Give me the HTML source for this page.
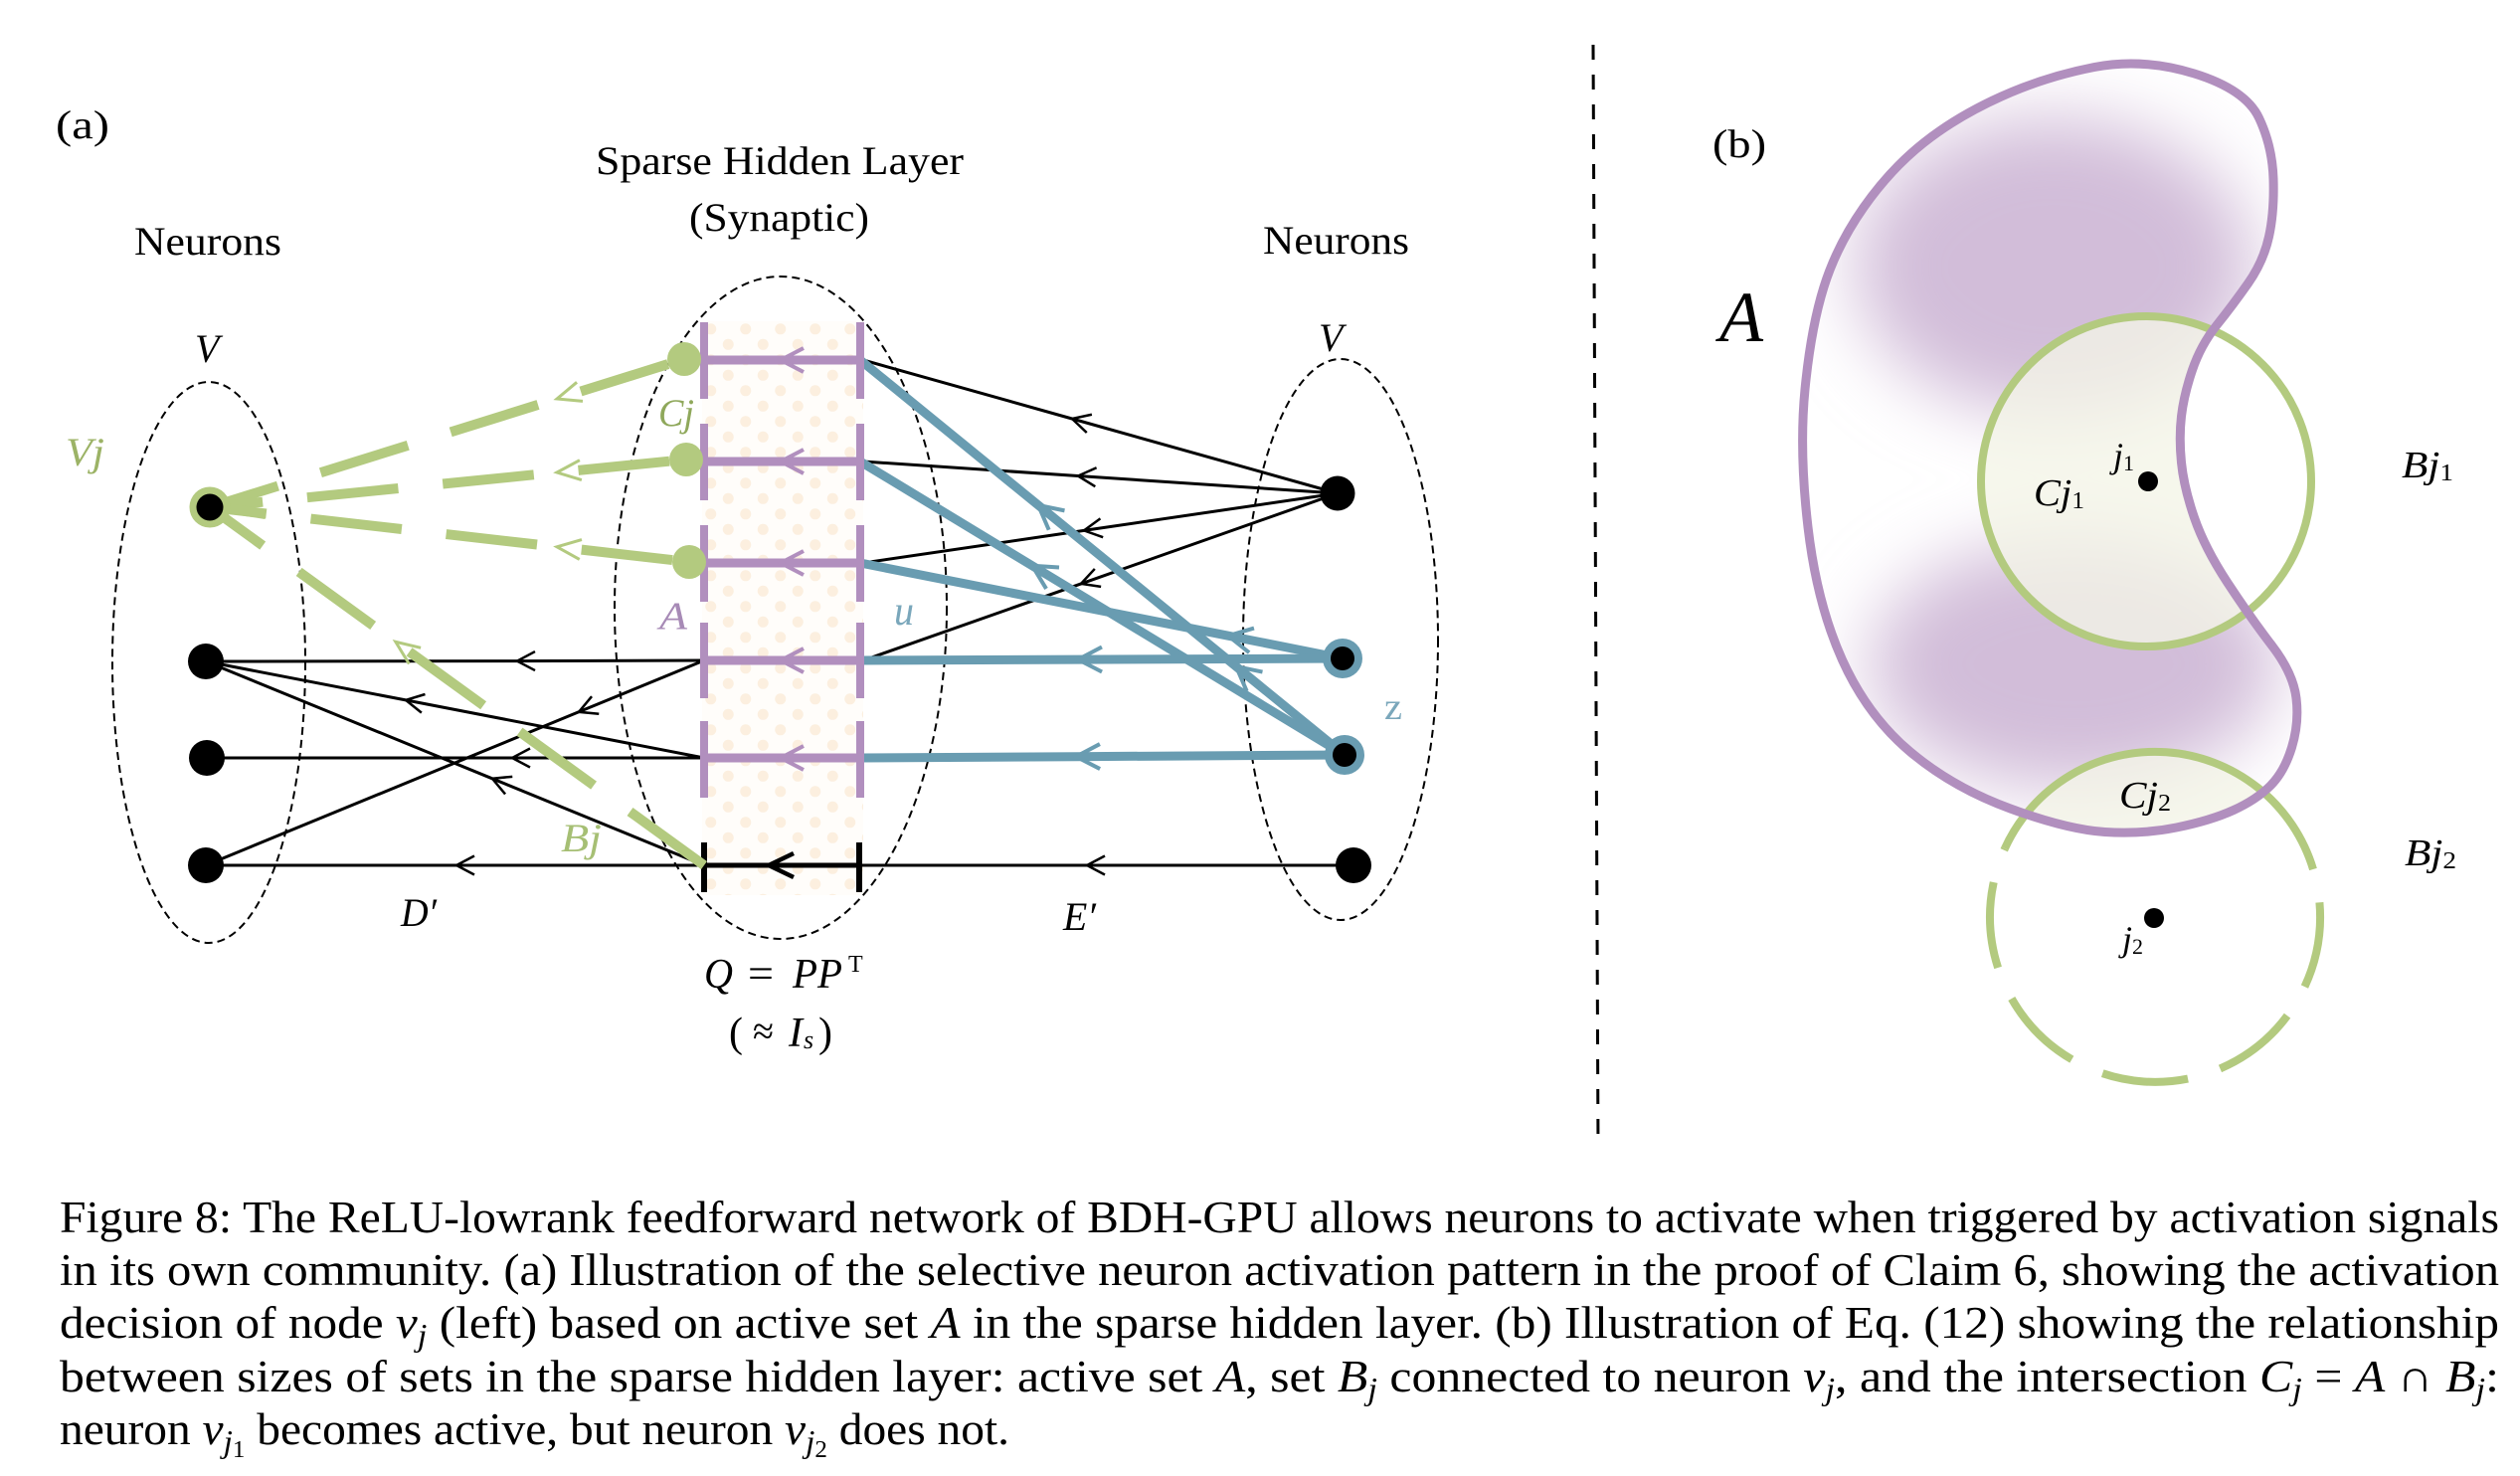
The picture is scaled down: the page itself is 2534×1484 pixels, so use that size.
<!DOCTYPE html>
<html><head><meta charset="utf-8"><style>html,body{margin:0;padding:0;background:#fff}svg{display:block}
svg text, svg tspan{font-family:"Liberation Serif","Times New Roman",Times,"Nimbus Roman","FreeSerif",serif;}
</style></head>
<body>
<svg xmlns="http://www.w3.org/2000/svg" width="2534" height="1484" viewBox="0 0 2534 1484">
<defs>
  <pattern id="dots" x="706" y="323" width="35" height="31" patternUnits="userSpaceOnUse">
    <rect width="35" height="31" fill="#fffdfa"/>
    <circle cx="8.75" cy="7.8" r="5.5" fill="#fcefdf"/>
    <circle cx="26.25" cy="23.3" r="5.5" fill="#fcefdf"/>
  </pattern>
  <marker id="mkK" markerUnits="userSpaceOnUse" orient="auto" refX="0" refY="0" markerWidth="1" markerHeight="1" style="overflow:visible">
    <path d="M-18,-9.5 L0,0 L-18,9.5" fill="none" stroke="#000" stroke-width="2.5"/>
  </marker>
  <marker id="mkKt" markerUnits="userSpaceOnUse" orient="auto" refX="0" refY="0" markerWidth="1" markerHeight="1" style="overflow:visible">
    <path d="M-25,-12 L0,0 L-25,12" fill="none" stroke="#000" stroke-width="4.5"/>
  </marker>
  <marker id="mkP" markerUnits="userSpaceOnUse" orient="auto" refX="0" refY="0" markerWidth="1" markerHeight="1" style="overflow:visible">
    <path d="M-23,-12 L0,0 L-23,12" fill="none" stroke="#b18fbe" stroke-width="4"/>
  </marker>
  <marker id="mkB" markerUnits="userSpaceOnUse" orient="auto" refX="0" refY="0" markerWidth="1" markerHeight="1" style="overflow:visible">
    <path d="M-24,-12.5 L0,0 L-24,12.5" fill="none" stroke="#699cb1" stroke-width="4"/>
  </marker>
  <marker id="mkG" markerUnits="userSpaceOnUse" orient="auto" refX="0" refY="0" markerWidth="1" markerHeight="1" style="overflow:visible">
    <path d="M-24,-10 L0,0 L-24,10" fill="none" stroke="#b3ca7f" stroke-width="3"/>
  </marker>
  <clipPath id="kid"><path d="M 2106,67.5 Q 2155,58 2206.5,74 Q 2258,90 2271.5,118.5 Q 2285,147 2286,180 Q 2287,213 2281.5,238 Q 2276,263 2260.5,285 Q 2245,307 2229,327 Q 2213,347 2204.5,372 Q 2196,397 2193.5,418.5 Q 2191,440 2193.5,465 Q 2196,490 2206.5,520.5 Q 2217,551 2240,586 Q 2263,621 2284.5,649 Q 2306,677 2309,702 Q 2312,727 2304.5,751.5 Q 2297,776 2283,790 Q 2269,804 2246,814.5 Q 2223,825 2188.5,832 Q 2154,839 2116.5,836.5 Q 2079,834 2021.5,813 Q 1964,792 1921,756 Q 1878,720 1852.5,663.5 Q 1827,607 1818,530 Q 1809,453 1815,391.5 Q 1821,330 1834,288.5 Q 1847,247 1874,208.5 Q 1901,170 1934.5,143.5 Q 1968,117 2012.5,97 Q 2057,77 2106,67.5 Z"/></clipPath>
  <filter id="blur" x="-60%" y="-60%" width="220%" height="220%"><feGaussianBlur stdDeviation="36"/></filter>
</defs>
<rect width="2534" height="1484" fill="#fff"/>

<!-- ================= PANEL (a) ================= -->
<rect x="706" y="323" width="162" height="577" fill="url(#dots)"/>

<g fill="none" stroke="#000" stroke-width="2" stroke-dasharray="8 5">
  <ellipse cx="210" cy="666" rx="97" ry="282"/>
  <ellipse cx="785" cy="611" rx="167" ry="333"/>
  <ellipse cx="1348" cy="643" rx="98" ry="282"/>
</g>

<g fill="none" stroke="#000" stroke-width="3" marker-mid="url(#mkK)">
  <path d="M1345,496 L1078,421 L868,362"/>
  <path d="M1345,496 L1084,478.5 L868,464"/>
  <path d="M1345,496 L1090,533.4 L868,566"/>
  <path d="M1345,496 L1087,586.9 L868,664"/>
  <path d="M1361,870 L1093,870 L865,870"/>
  <path d="M708,870 L459,870 L207,870"/>
  <path d="M708,664 L520,664.6 L207,665"/>
  <path d="M708,762 L408,703.9 L207,665"/>
  <path d="M708,870 L495,782.8 L207,665"/>
  <path d="M708,762 L515,762 L208,762"/>
  <path d="M708,664 L582,715.8 L207,870"/>
</g>
<path d="M865,870 L773,870 L708,870" fill="none" stroke="#000" stroke-width="5" marker-mid="url(#mkKt)"/>
<g stroke="#000" stroke-width="6">
  <line x1="708" y1="847" x2="708" y2="897"/>
  <line x1="864" y1="847" x2="864" y2="897"/>
</g>

<g fill="none" stroke="#699cb1" stroke-width="9" marker-mid="url(#mkB)">
  <path d="M1352,759 L1243,670.1 L1044,507.9 L865,362"/>
  <path d="M1352,759 L1038,568.8 L865,464"/>
  <path d="M1350,662 L1235,639.2 L865,566"/>
  <path d="M1350,662 L1084,663.1 L865,664"/>
  <path d="M1352,759 L1082,760.7 L865,762"/>
</g>

<g fill="none" stroke="#b18fbe" stroke-width="9" marker-mid="url(#mkP)">
  <path d="M865,362 L785,362 L708,362"/>
  <path d="M865,464 L785,464 L708,464"/>
  <path d="M865,566 L785,566 L708,566"/>
  <path d="M865,664 L785,664 L708,664"/>
  <path d="M865,762 L785,762 L708,762"/>
</g>
<g stroke="#b18fbe" stroke-width="8">
  <line x1="708" y1="324" x2="708" y2="401"/><line x1="865" y1="324" x2="865" y2="401"/>
  <line x1="708" y1="426" x2="708" y2="503"/><line x1="865" y1="426" x2="865" y2="503"/>
  <line x1="708" y1="528" x2="708" y2="605"/><line x1="865" y1="528" x2="865" y2="605"/>
  <line x1="708" y1="626" x2="708" y2="702"/><line x1="865" y1="626" x2="865" y2="702"/>
  <line x1="708" y1="725" x2="708" y2="802"/><line x1="865" y1="725" x2="865" y2="802"/>
</g>

<g fill="none" stroke="#b3ca7f" stroke-width="10" stroke-dasharray="92 45">
  <path d="M688,361 L560.1,401 L211,510" stroke-dashoffset="120" marker-mid="url(#mkG)"/>
  <path d="M690,462 L560,475 L211,510" stroke-dashoffset="120" marker-mid="url(#mkG)"/>
  <path d="M693,565 L560,549.8 L211,510" stroke-dashoffset="120" marker-mid="url(#mkG)"/>
  <path d="M708,870 L397.8,645.3 L211,510" stroke-dashoffset="0" marker-mid="url(#mkG)"/>
</g>
<g stroke="#b3ca7f" stroke-width="10" fill="none">
  <line x1="228" y1="511" x2="267" y2="517"/>
</g>

<g fill="#b3ca7f">
  <circle cx="688" cy="361" r="17"/>
  <circle cx="690" cy="462" r="17"/>
  <circle cx="693" cy="565" r="17"/>
  <circle cx="211" cy="510" r="20.5"/>
</g>
<circle cx="211" cy="510" r="13.5" fill="#000"/>
<g fill="#000">
  <circle cx="207" cy="665" r="18"/>
  <circle cx="208" cy="762" r="18"/>
  <circle cx="207" cy="870" r="18"/>
  <circle cx="1345" cy="496" r="17.5"/>
  <circle cx="1361" cy="870" r="18"/>
</g>
<circle cx="1350" cy="662" r="20" fill="#699cb1"/>
<circle cx="1350" cy="662" r="12" fill="#000"/>
<circle cx="1352" cy="759" r="20" fill="#699cb1"/>
<circle cx="1352" cy="759" r="12" fill="#000"/>

<g fill="#000">
  <text x="56" y="139" font-size="40" textLength="54" lengthAdjust="spacingAndGlyphs">(a)</text>
  <text x="599" y="175" font-size="40" textLength="370" lengthAdjust="spacingAndGlyphs">Sparse Hidden Layer</text>
  <text x="693" y="232" font-size="40" textLength="181" lengthAdjust="spacingAndGlyphs">(Synaptic)</text>
  <text x="135" y="256" font-size="40" textLength="148" lengthAdjust="spacingAndGlyphs">Neurons</text>
  <text x="1270" y="255" font-size="40" textLength="147" lengthAdjust="spacingAndGlyphs">Neurons</text>
  <text x="196" y="364" font-size="40" font-style="italic">V</text>
  <text x="1326" y="353" font-size="40" font-style="italic">V</text>
  <text x="403" y="931" font-size="40" font-style="italic" textLength="36" lengthAdjust="spacingAndGlyphs">D′</text>
  <text x="1069" y="935" font-size="40" font-style="italic" textLength="33" lengthAdjust="spacingAndGlyphs">E′</text>
  <text x="708" y="993" font-size="42" font-style="italic" textLength="29" lengthAdjust="spacingAndGlyphs">Q</text>
  <text x="752" y="993" font-size="42" textLength="26" lengthAdjust="spacingAndGlyphs">=</text>
  <text x="797" y="993" font-size="42" font-style="italic" textLength="50" lengthAdjust="spacingAndGlyphs">PP</text>
  <text x="853" y="977" font-size="24">T</text>
  <text x="733" y="1052" font-size="42">(</text>
  <text x="757" y="1050" font-size="40" textLength="21" lengthAdjust="spacingAndGlyphs">≈</text>
  <text x="793" y="1052" font-size="42" font-style="italic">I</text>
  <text x="808" y="1054" font-size="26" font-style="italic">s</text>
  <text x="823" y="1052" font-size="42">)</text>
</g>
<text x="66" y="468" font-size="40" font-style="italic" fill="#9cb366" textLength="39" lengthAdjust="spacingAndGlyphs">Vj</text>
<text x="662" y="428" font-size="39" font-style="italic" fill="#8fa85b" textLength="36" lengthAdjust="spacingAndGlyphs">Cj</text>
<text x="663" y="632" font-size="39" font-style="italic" fill="#a78ab6" textLength="28" lengthAdjust="spacingAndGlyphs">A</text>
<text x="899" y="628" font-size="42" font-style="italic" fill="#7aa7bb" textLength="20" lengthAdjust="spacingAndGlyphs">u</text>
<text x="1392" y="723" font-size="38" fill="#7aa7bb" textLength="18" lengthAdjust="spacingAndGlyphs">z</text>
<text x="564" y="856" font-size="40" font-style="italic" fill="#a6bf74" textLength="41" lengthAdjust="spacingAndGlyphs">Bj</text>

<line x1="1602" y1="45" x2="1607" y2="1155" stroke="#000" stroke-width="3" stroke-dasharray="15 15"/>

<!-- ================= PANEL (b) ================= -->
<g clip-path="url(#kid)">
  <g filter="url(#blur)">
    <ellipse cx="2065" cy="268" rx="200" ry="150" fill="#d2bdd9"/>
    <ellipse cx="2085" cy="668" rx="205" ry="125" fill="#d2bdd9"/>
  </g>
  <circle cx="2158" cy="484" r="166" fill="#f3f5e7" fill-opacity="0.78"/>
  <circle cx="2167" cy="923" r="166" fill="#f3f5e7" fill-opacity="0.78"/>
</g>
<circle cx="2158" cy="484" r="166" fill="none" stroke="#b3ca7f" stroke-width="8"/>
<path d="M2016,853 A166,166 0 0 1 2326,874" fill="none" stroke="#b3ca7f" stroke-width="8"/>
<path d="M2326,874 A166,166 0 1 1 2016,853" fill="none" stroke="#b3ca7f" stroke-width="8" stroke-dasharray="87 34" stroke-dashoffset="87"/>
<path d="M 2106,67.5 Q 2155,58 2206.5,74 Q 2258,90 2271.5,118.5 Q 2285,147 2286,180 Q 2287,213 2281.5,238 Q 2276,263 2260.5,285 Q 2245,307 2229,327 Q 2213,347 2204.5,372 Q 2196,397 2193.5,418.5 Q 2191,440 2193.5,465 Q 2196,490 2206.5,520.5 Q 2217,551 2240,586 Q 2263,621 2284.5,649 Q 2306,677 2309,702 Q 2312,727 2304.5,751.5 Q 2297,776 2283,790 Q 2269,804 2246,814.5 Q 2223,825 2188.5,832 Q 2154,839 2116.5,836.5 Q 2079,834 2021.5,813 Q 1964,792 1921,756 Q 1878,720 1852.5,663.5 Q 1827,607 1818,530 Q 1809,453 1815,391.5 Q 1821,330 1834,288.5 Q 1847,247 1874,208.5 Q 1901,170 1934.5,143.5 Q 1968,117 2012.5,97 Q 2057,77 2106,67.5 Z" fill="none" stroke="#b18fbe" stroke-width="9"/>
<circle cx="2160" cy="484" r="10" fill="#000"/>
<circle cx="2166" cy="923" r="10" fill="#000"/>

<g fill="#000">
  <text x="1722" y="158" font-size="40" textLength="54" lengthAdjust="spacingAndGlyphs">(b)</text>
  <text x="1729" y="343" font-size="72" font-style="italic" textLength="44" lengthAdjust="spacingAndGlyphs">A</text>
  <text x="2125" y="470" font-size="36" font-style="italic">j<tspan font-style="normal" font-size="22" dy="3">1</tspan></text>
  <text x="2045" y="508" font-size="38" font-style="italic" textLength="51" lengthAdjust="spacingAndGlyphs">Cj<tspan font-style="normal" font-size="24" dy="3">1</tspan></text>
  <text x="2415" y="480" font-size="38" font-style="italic" textLength="52" lengthAdjust="spacingAndGlyphs">Bj<tspan font-style="normal" font-size="24" dy="3">1</tspan></text>
  <text x="2131" y="812" font-size="38" font-style="italic" textLength="52" lengthAdjust="spacingAndGlyphs">Cj<tspan font-style="normal" font-size="24" dy="3">2</tspan></text>
  <text x="2418" y="870" font-size="38" font-style="italic" textLength="52" lengthAdjust="spacingAndGlyphs">Bj<tspan font-style="normal" font-size="24" dy="3">2</tspan></text>
  <text x="2134" y="956" font-size="36" font-style="italic">j<tspan font-style="normal" font-size="22" dy="3">2</tspan></text>
</g>

<!-- ================= CAPTION ================= -->
<g font-size="45.5" fill="#000">
  <text x="60" y="1239" textLength="2453" lengthAdjust="spacingAndGlyphs">Figure 8: The ReLU-lowrank feedforward network of BDH-GPU allows neurons to activate when triggered by activation signals</text>
  <text x="60" y="1292" textLength="2453" lengthAdjust="spacingAndGlyphs">in its own community.  (a) Illustration of the selective neuron activation pattern in the proof of Claim 6, showing the activation</text>
  <text x="60" y="1345" textLength="2453" lengthAdjust="spacingAndGlyphs">decision of node <tspan font-style="italic">v</tspan><tspan font-style="italic" font-size="32" dy="8">j</tspan><tspan dy="-8"> (left) based on active set </tspan><tspan font-style="italic">A</tspan> in the sparse hidden layer.  (b) Illustration of Eq. (12) showing the relationship</text>
  <text x="60" y="1399" textLength="2453" lengthAdjust="spacingAndGlyphs">between sizes of sets in the sparse hidden layer: active set <tspan font-style="italic">A</tspan>, set <tspan font-style="italic">B</tspan><tspan font-style="italic" font-size="32" dy="8">j</tspan><tspan dy="-8"> connected to neuron </tspan><tspan font-style="italic">v</tspan><tspan font-style="italic" font-size="32" dy="8">j</tspan><tspan dy="-8">, and the intersection </tspan><tspan font-style="italic">C</tspan><tspan font-style="italic" font-size="32" dy="8">j</tspan><tspan dy="-8"> = </tspan><tspan font-style="italic">A</tspan> ∩ <tspan font-style="italic">B</tspan><tspan font-style="italic" font-size="32" dy="8">j</tspan><tspan dy="-8">:</tspan></text>
  <text x="60" y="1452" textLength="955" lengthAdjust="spacingAndGlyphs">neuron <tspan font-style="italic">v</tspan><tspan font-style="italic" font-size="32" dy="8">j</tspan><tspan font-size="24" dy="5">1</tspan><tspan dy="-13"> becomes active, but neuron </tspan><tspan font-style="italic">v</tspan><tspan font-style="italic" font-size="32" dy="8">j</tspan><tspan font-size="24" dy="5">2</tspan><tspan dy="-13"> does not.</tspan></text>
</g>
</svg>
</body></html>
